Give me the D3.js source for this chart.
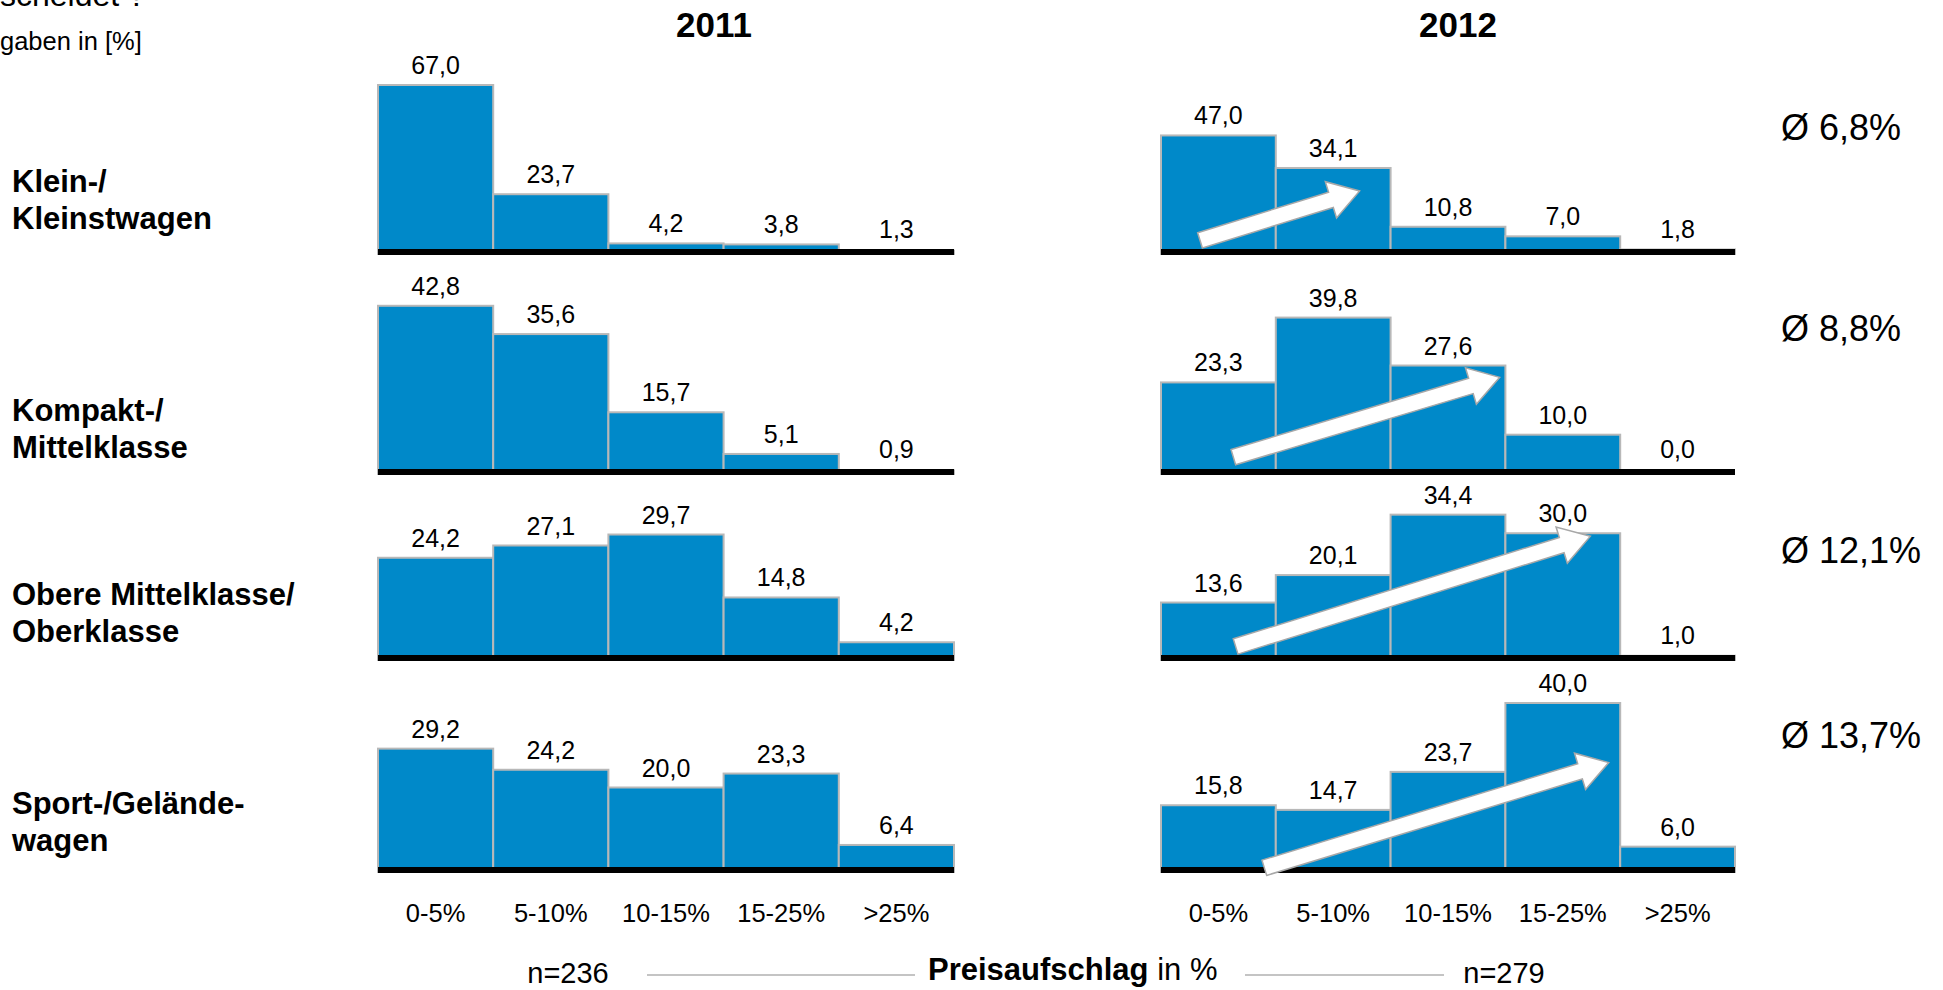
<!DOCTYPE html>
<html lang="de">
<head>
<meta charset="utf-8">
<script src="https://cdn.jsdelivr.net/npm/d3@7"></script>
<style>
  html, body { margin: 0; padding: 0; background: #fff; }
  svg { display: block; font-family: "Liberation Sans", Arial, Helvetica, sans-serif; }
</style>
</head>
<body>
<svg id="chart" width="1943" height="990"></svg>
<script>
// ---- data -------------------------------------------------------------
const bins = ["0-5%", "5-10%", "10-15%", "15-25%", ">25%"];
const segments = [
  ["Klein-/", "Kleinstwagen"],
  ["Kompakt-/", "Mittelklasse"],
  ["Obere Mittelklasse/", "Oberklasse"],
  ["Sport-/Gelände-", "wagen"]
];
const years = ["2011", "2012"];
const sampleSizes = [236, 279];
const share2011 = [
  [67.0, 23.7, 4.2, 3.8, 1.3],
  [42.8, 35.6, 15.7, 5.1, 0.9],
  [24.2, 27.1, 29.7, 14.8, 4.2],
  [29.2, 24.2, 20.0, 23.3, 6.4]
];
const share2012 = [
  [47.0, 34.1, 10.8, 7.0, 1.8],
  [23.3, 39.8, 27.6, 10.0, 0.0],
  [13.6, 20.1, 34.4, 30.0, 1.0],
  [15.8, 14.7, 23.7, 40.0, 6.0]
];
const avg2012 = [6.8, 8.8, 12.1, 13.7];
// value-axis maximum used for each segment row
const rowMax = [67, 43, 40, 40];
// trend arrows on the 2012 panels: [bin position from, share from, bin position to, share to]
const trendArrows = [
  [0.34, 5.4, 1.73, 25.0],
  [0.63, 4.3, 2.95, 24.6],
  [0.65, 3.2, 3.74, 29.3],
  [0.90, 1.0, 3.90, 25.9]
];

// ---- layout -----------------------------------------------------------
const panelX = [[378, 954], [1161, 1735]];
const rowBase = [254, 474, 660, 872];
const barSpan = 169;
const blue = "#0089c9";

const de = d3.formatLocale({ decimal: ",", thousands: ".", grouping: [3], currency: ["", " €"] });
const fmt1 = de.format(".1f");

const svg = d3.select("#chart");

// header texts
svg.append("text").attr("x", 0).attr("y", 6)
  .attr("font-size", 32).attr("fill", "#000").text("scheidet ?");
svg.append("text").attr("x", 0).attr("y", 50)
  .attr("font-size", 25.5).attr("fill", "#000").text("gaben in [%]");

const titleX = [714, 1458];
years.forEach((y, i) => {
  svg.append("text").attr("x", titleX[i]).attr("y", 37)
    .attr("text-anchor", "middle").attr("font-size", 35).attr("font-weight", "bold")
    .text(y);
});

// segment labels
segments.forEach((lines, r) => {
  const t = svg.append("text").attr("x", 12).attr("font-size", 31).attr("font-weight", "bold");
  const firstBaseline = [192, 421, 605, 814][r];
  lines.forEach((ln, k) => {
    t.append("tspan").attr("x", 12).attr("y", firstBaseline + k * 37).text(ln);
  });
});

const panels = [share2011, share2012];

panels.forEach((rows, p) => {
  const x = d3.scaleBand().domain(bins).range(panelX[p]).padding(0);
  const xPos = d3.scaleLinear().domain([0, bins.length]).range(panelX[p]);

  rows.forEach((vals, r) => {
    const y = d3.scaleLinear().domain([0, rowMax[r]]).range([rowBase[r], rowBase[r] - barSpan]);
    const g = svg.append("g");

    g.selectAll("rect.bar").data(vals).join("rect")
      .attr("class", "bar")
      .attr("x", (d, i) => x(bins[i]))
      .attr("width", x.bandwidth())
      .attr("y", d => y(d))
      .attr("height", d => y(0) - y(d))
      .attr("fill", blue)
      .attr("stroke", d => d > 0 ? "#b8b8b8" : "none")
      .attr("stroke-width", 2);

    g.selectAll("text.val").data(vals).join("text")
      .attr("class", "val")
      .attr("x", (d, i) => x(bins[i]) + x.bandwidth() / 2)
      .attr("y", d => Math.min(y(d), y(0) - 5) - 11)
      .attr("text-anchor", "middle")
      .attr("font-size", 25)
      .text(d => fmt1(d));

    // baseline
    g.append("rect")
      .attr("x", panelX[p][0]).attr("width", panelX[p][1] - panelX[p][0])
      .attr("y", y(0) - 5).attr("height", 6)
      .attr("fill", "#000");

    // trend arrow (2012 only)
    if (p === 1) {
      const a = trendArrows[r];
      const x0 = xPos(a[0]), y0 = y(a[1]), x1 = xPos(a[2]), y1 = y(a[3]);
      const dx = x1 - x0, dy = y1 - y0, len = Math.hypot(dx, dy);
      const ux = dx / len, uy = dy / len, nx = -uy, ny = ux;
      const shaft = 8, head = 19, headLen = 30;
      const bx = x1 - ux * headLen, by = y1 - uy * headLen;
      const pts = [
        [x0 + nx * shaft, y0 + ny * shaft],
        [bx + nx * shaft, by + ny * shaft],
        [bx + nx * head, by + ny * head],
        [x1, y1],
        [bx - nx * head, by - ny * head],
        [bx - nx * shaft, by - ny * shaft],
        [x0 - nx * shaft, y0 - ny * shaft]
      ];
      g.append("path")
        .attr("d", d3.line()(pts) + "Z")
        .attr("fill", "#fff")
        .attr("stroke", "#a8a8a8")
        .attr("stroke-width", 1.5)
        .attr("stroke-linejoin", "miter");
    }
  });

  // bin labels under the last row
  svg.append("g").selectAll("text").data(bins).join("text")
    .attr("x", d => x(d) + x.bandwidth() / 2)
    .attr("y", 922)
    .attr("text-anchor", "middle")
    .attr("font-size", 25.5)
    .text(d => d);
});

// average markups for 2012
svg.append("g").selectAll("text").data(avg2012).join("text")
  .attr("x", 1781)
  .attr("y", (d, i) => [140, 341, 563, 748][i])
  .attr("font-size", 36)
  .text(d => "Ø " + fmt1(d) + "%");

// footer: sample sizes and axis caption
svg.append("text").attr("x", 568).attr("y", 983).attr("text-anchor", "middle")
  .attr("font-size", 29).text("n=" + sampleSizes[0]);
svg.append("text").attr("x", 1504).attr("y", 983).attr("text-anchor", "middle")
  .attr("font-size", 29).text("n=" + sampleSizes[1]);
svg.append("line").attr("x1", 647).attr("x2", 915).attr("y1", 975).attr("y2", 975)
  .attr("stroke", "#c4c4c4").attr("stroke-width", 2);
svg.append("line").attr("x1", 1245).attr("x2", 1444).attr("y1", 975).attr("y2", 975)
  .attr("stroke", "#c4c4c4").attr("stroke-width", 2);
const cap = svg.append("text").attr("x", 928).attr("y", 980).attr("font-size", 31);
cap.append("tspan").attr("font-weight", "bold").text("Preisaufschlag");
cap.append("tspan").text(" in %");
</script>
</body>
</html>
